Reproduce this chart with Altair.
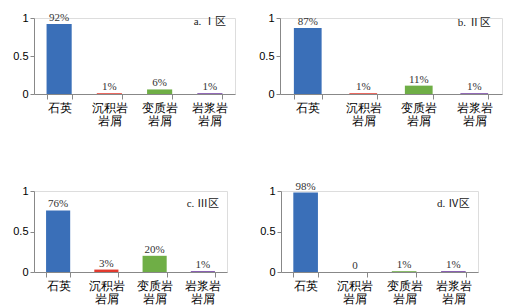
import altair as alt
import pandas as pd

categories = ["石英", "沉积岩\n岩屑", "变质岩\n岩屑", "岩浆岩\n岩屑"]
colors = ["#3a6fb8", "#e33a2e", "#6fae46", "#6f3ba0"]

vals_a = [0.92, 0.01, 0.06, 0.01]
text_a = ["92%", "1%", "6%", "1%"]
vals_b = [0.87, 0.01, 0.11, 0.01]
text_b = ["87%", "1%", "11%", "1%"]
vals_c = [0.76, 0.03, 0.20, 0.01]
text_c = ["76%", "3%", "20%", "1%"]
vals_d = [0.98, 0.0, 0.01, 0.01]
text_d = ["98%", "0", "1%", "1%"]

region_names = ["a. Ⅰ区", "b. Ⅱ区", "c. Ⅲ区", "d. Ⅳ区"]
region_y = [0.95, 0.94, 0.84, 0.84]

FONT = "'Liberation Serif', 'Noto Sans CJK SC'"


def panel(vals, texts, region, ry, w, h):
    df = pd.DataFrame({"cat": categories, "v": vals, "t": texts})
    x = alt.X("cat:N", sort=categories, title=None,
              scale=alt.Scale(paddingInner=0.5, paddingOuter=0.25),
              axis=alt.Axis(labelAngle=0, tickBand="extent", tickSize=5,
                            labelPadding=3, labelExpr="split(datum.label, '\\n')",
                            labelFontSize=12, labelLineHeight=13))
    y = alt.Y("v:Q", title=None,
              scale=alt.Scale(domain=[0, 1], nice=False),
              axis=alt.Axis(values=[0, 0.5, 1], tickCount=3, format="~g", tickSize=4,
                            labelPadding=2, grid=False, labelFontSize=11,
                            labelOverlap=False, labelFlush=False))
    bars = alt.Chart(df).mark_bar().encode(
        x=x, y=y,
        color=alt.Color("cat:N", sort=categories,
                        scale=alt.Scale(domain=categories, range=colors), legend=None),
    )
    labels = alt.Chart(df).mark_text(baseline="bottom", dy=-1, fontSize=11,
                                      font=FONT, color="#333333").encode(
        x=x, y=y, text="t:N")
    rdf = pd.DataFrame({"cat": [categories[3]], "v": [ry], "t": [region]})
    reg = alt.Chart(rdf).mark_text(fontSize=11, font=FONT, color="#222222").encode(
        x=x, y=y, text="t:N")
    return alt.layer(bars, labels, reg).properties(width=w, height=h)


row1 = alt.hconcat(
    panel(vals_a, text_a, region_names[0], region_y[0], 201, 76),
    panel(vals_b, text_b, region_names[1], region_y[1], 222, 76),
    spacing=22,
)
row2 = alt.hconcat(
    panel(vals_c, text_c, region_names[2], region_y[2], 193, 81),
    panel(vals_d, text_d, region_names[3], region_y[3], 197, 81),
    spacing=31,
)

chart = alt.vconcat(row1, row2, spacing=53).properties(
    padding={"left": 12, "top": 11, "right": 5, "bottom": 5}
).configure_view(stroke=None).configure_axis(
    domainColor="#000000", tickColor="#000000", labelColor="#333333",
    labelFont=FONT, domainWidth=1, tickWidth=1,
).configure(background="white")

chart.save("out.html", embed_options={"renderer": "svg", "actions": False})
